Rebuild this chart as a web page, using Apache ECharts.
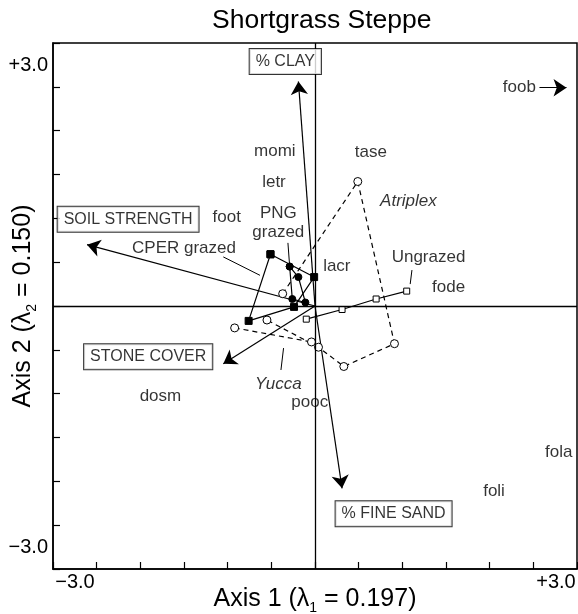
<!DOCTYPE html>
<html><head><meta charset="utf-8">
<script src="https://cdn.jsdelivr.net/npm/echarts@6/dist/echarts.min.js"></script>
<style>html,body{margin:0;padding:0;background:#fff}#c{width:578px;height:614px}</style>
</head><body><div id="c"></div>
<script>
// ---- data (axis units) ----
const cperGrazed = [[-0.51,0.59],[-0.01,0.33],[-0.24,-0.01],[-0.76,-0.17],[-0.51,0.59]];
const pngGrazed = [[-0.29,0.45],[-0.19,0.33],[-0.11,0.04],[-0.26,0.08],[-0.29,0.45]];
const ungrazed = [[1.05,0.17],[0.70,0.08],[0.31,-0.04],[-0.10,-0.15]];
const atriplex = [[-0.37,0.14],[0.49,1.42],[0.91,-0.43],[0.33,-0.69],[0.04,-0.47],[-0.55,-0.16]];
const yucca = [[-0.92,-0.25],[-0.04,-0.41]];

const envNames = ['% CLAY','SOIL STRENGTH','STONE COVER','% FINE SAND'];
const envTipX = [-0.19,-2.61,-1.05,0.31];
const envTipY = [2.56,0.70,-0.66,-2.08];
const envLabelX = [-0.34,-2.14,-1.91,0.90];
const envLabelY = [2.79,0.99,-0.58,-2.37];

const speciesNames = ['foob','momi','letr','foot','tase','lacr','fode','dosm','pooc','fola','foli','PNG\ngrazed','CPER grazed','Ungrazed'];
const speciesX = [2.34,-0.46,-0.47,-1.01,0.64,0.25,1.53,-1.77,-0.06,2.79,2.05,-0.42,-1.50,1.30];
const speciesY = [2.49,1.76,1.41,1.01,1.75,0.45,0.21,-1.03,-1.10,-1.67,-2.11,0.95,0.66,0.56];

const italicNames = ['Atriplex','Yucca'];
const italicX = [1.07,-0.42];
const italicY = [1.19,-0.89];

const foobArrow = [[2.57,2.49],[2.88,2.49]];
const leaders = [
  [[-0.31,0.72],[-0.29,0.45]],
  [[-1.05,0.56],[-0.63,0.35]],
  [[1.11,0.41],[1.09,0.25]],
  [[-0.36,-0.48],[-0.39,-0.73]]
];
const axisMin = -3, axisMax = 3, tickStep = 0.5;
const xTitle = 'Axis 1 (λ{s|1} = 0.197)';
const yTitle = 'Axis 2 (λ{s|2} = 0.150)';

// ---- chart ----
const FF = "'Liberation Sans', Arial, Helvetica, sans-serif";
const chart = echarts.init(document.getElementById('c'), null, {renderer:'canvas'});
const lineCol = '#000';
function polySeries(data, sym, filled, dashed, size){
  return {type:'line', data:data, symbol:sym, symbolSize:size, showSymbol:true,
    lineStyle:{color:lineCol, width:1.2, type: dashed ? [5,4] : 'solid'},
    itemStyle:{color: filled ? '#000' : '#fff', borderColor:'#000', borderWidth:1},
    animation:false, silent:true, z:3};
}
const txt = {color:'#000', fontFamily:FF, textBorderWidth:0, textBorderColor:'transparent', textShadowBlur:0};
const option = {
  animation:false,
  title:{text:'Shortgrass Steppe', left:212, top:7, padding:0,
    textStyle:{fontFamily:FF, fontSize:26.5, fontWeight:'normal', color:'#000'}},
  grid:{left:53, right:1, top:43, bottom:45, containLabel:false, outerBoundsMode:'none',
    show:true, borderColor:'#000', borderWidth:1.5, backgroundColor:'#fff'},
  xAxis:{type:'value', min:axisMin, max:axisMax, interval:tickStep,
    axisLine:{show:true, onZero:false, lineStyle:{color:'#000', width:1.5}},
    axisTick:{show:true, inside:true, length:7, lineStyle:{color:'#000', width:1.2}},
    splitLine:{show:false},
    axisLabel:{show:true, showMinLabel:true, showMaxLabel:true, margin:3,
      formatter:v => v===axisMin ? '{l|−3.0}' : (v===axisMax ? '{r|+3.0}' : ''),
      rich:{l:{fontFamily:FF, fontSize:20, color:'#000', padding:[0,0,0,44]},
            r:{fontFamily:FF, fontSize:20, color:'#000', padding:[0,42,0,0]}}},
    name:xTitle, nameLocation:'middle', nameGap:14, nameMoveOverlap:false,
    nameTextStyle:{fontFamily:FF, fontSize:25, color:'#000',
      rich:{s:{fontFamily:FF, fontSize:14, color:'#000', padding:[18,0,0,0]}}}
  },
  yAxis:{type:'value', min:axisMin, max:axisMax, interval:tickStep,
    axisLine:{show:true, onZero:false, lineStyle:{color:'#000', width:1.5}},
    axisTick:{show:true, inside:true, length:7, lineStyle:{color:'#000', width:1.2}},
    splitLine:{show:false},
    axisLabel:{show:true, showMinLabel:true, showMaxLabel:true, margin:5,
      formatter:v => v===axisMax ? '{t|+3.0}' : (v===axisMin ? '{b|−3.0}' : ''),
      rich:{t:{fontFamily:FF, fontSize:20, color:'#000', padding:[44,0,0,0]},
            b:{fontFamily:FF, fontSize:20, color:'#000', padding:[0,0,44,0]}}},
    name:yTitle, nameLocation:'middle', nameRotate:90, nameGap:14, nameMoveOverlap:false,
    nameTextStyle:{fontFamily:FF, fontSize:25, color:'#000',
      rich:{s:{fontFamily:FF, fontSize:14, color:'#000', padding:[18,0,0,0]}}}
  },
  series:[
    {type:'line', data:[], silent:true, z:1,
      markLine:{silent:true, symbol:['none','none'], label:{show:false}, animation:false,
        lineStyle:{color:'#000', type:'solid', width:1.3},
        data:[{xAxis:0},{yAxis:0}]}},
    {type:'lines', coordinateSystem:'cartesian2d', silent:true, z:2,
      symbol:['none','arrow'], symbolSize:[0,13],
      lineStyle:{color:'#000', width:1.2, opacity:1, curveness:0},
      data: envNames.map((n,i)=>({coords:[[0,0],[envTipX[i],envTipY[i]]]})).concat([{coords:foobArrow}])},
    {type:'lines', coordinateSystem:'cartesian2d', silent:true, z:2,
      symbol:['none','none'],
      lineStyle:{color:'#000', width:1, opacity:1},
      data: leaders.map(c=>({coords:c}))},
    polySeries(atriplex,'circle',false,true,8),
    polySeries(yucca,'circle',false,true,8),
    polySeries(ungrazed,'rect',false,false,6),
    polySeries(cperGrazed,'rect',true,false,7),
    polySeries(pngGrazed,'circle',true,false,7),
    {type:'scatter', silent:true, z:5, symbolSize:1, itemStyle:{color:'rgba(0,0,0,0)'},
      label:Object.assign({show:true, position:'inside', formatter:'{b}', fontSize:17, lineHeight:19}, txt),
      data: speciesNames.map((n,i)=>({name:n, value:[speciesX[i],speciesY[i]]}))},
    {type:'scatter', silent:true, z:5, symbolSize:1, itemStyle:{color:'rgba(0,0,0,0)'},
      label:Object.assign({show:true, position:'inside', formatter:'{b}', fontSize:17, fontStyle:'italic'}, txt),
      data: italicNames.map((n,i)=>({name:n, value:[italicX[i],italicY[i]]}))},
    {type:'scatter', silent:true, z:6, symbolSize:1, itemStyle:{color:'rgba(0,0,0,0)'},
      label:Object.assign({show:true, position:'inside', formatter:'{b}', fontSize:16,
        backgroundColor:'#fff', borderColor:'#000', borderWidth:1, padding:[5,6,4,6]}, txt),
      data: envNames.map((n,i)=>({name:n, value:[envLabelX[i],envLabelY[i]]}))}
  ]
};
chart.setOption(option);
</script></body></html>
